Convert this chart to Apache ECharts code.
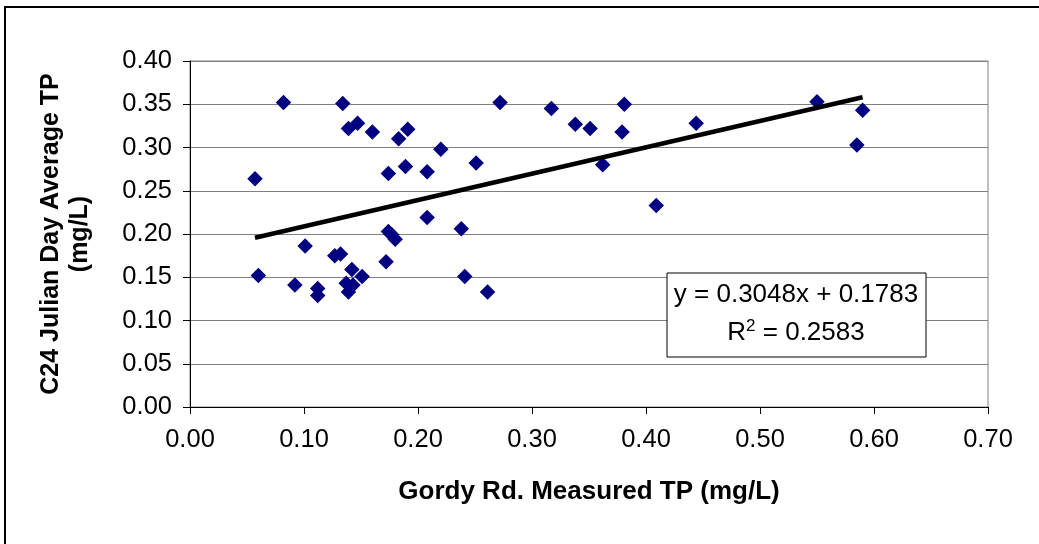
<!DOCTYPE html>
<html>
<head>
<meta charset="utf-8">
<script src="https://cdn.jsdelivr.net/npm/echarts@6/dist/echarts.min.js"></script>
<style>
html,body{margin:0;padding:0;background:#fff;}
#chart{width:1039px;height:544px;}
</style>
</head>
<body>
<div id="chart"></div>
<script>
// Gordy Rd. measured TP (mg/L)
const xValues = [0.057,0.060,0.082,0.092,0.101,0.112,0.112,0.127,0.132,0.134,
  0.137,0.143,0.139,0.142,0.151,0.139,0.147,0.160,0.172,0.174,
  0.174,0.177,0.180,0.183,0.189,0.191,0.208,0.208,0.220,0.238,
  0.241,0.251,0.261,0.272,0.317,0.338,0.351,0.362,0.379,0.381,
  0.409,0.444,0.550,0.585,0.590];
// C24 Julian day average TP (mg/L)
const yValues = [0.264,0.152,0.352,0.141,0.186,0.137,0.129,0.175,0.177,0.351,
  0.143,0.141,0.133,0.159,0.151,0.322,0.328,0.318,0.168,0.270,
  0.203,0.199,0.194,0.310,0.278,0.321,0.272,0.219,0.298,0.206,
  0.151,0.282,0.133,0.352,0.345,0.327,0.322,0.280,0.318,0.350,
  0.233,0.328,0.353,0.303,0.343];
const xTicks = ['0.00','0.10','0.20','0.30','0.40','0.50','0.60','0.70'];
const yTicks = ['0.00','0.05','0.10','0.15','0.20','0.25','0.30','0.35','0.40'];
const trendSlope = 0.3048;
const trendIntercept = 0.1783;
const trendLabel1 = 'y = 0.3048x + 0.1783';
const trendLabel2 = 'R{sup|2} = 0.2583';

const points = xValues.map((x,i)=>[x,yValues[i]]);
const xMin = Math.min(...xValues), xMax = Math.max(...xValues);
const trend = [[xMin, trendSlope*xMin+trendIntercept],[xMax, trendSlope*xMax+trendIntercept]];

const font = '"Liberation Sans", Arial, sans-serif';
const chart = echarts.init(document.getElementById('chart'), null, {renderer:'canvas'});
chart.setOption({
  animation:false,
  backgroundColor:'#fff',
  grid:{left:190, top:61, width:798, height:346, show:true, borderColor:'#808080', borderWidth:1, backgroundColor:'#fff'},
  xAxis:{
    type:'value', min:0, max:0.7, interval:0.1,
    name:'Gordy Rd. Measured TP (mg/L)', nameLocation:'middle', nameGap:72,
    nameTextStyle:{fontFamily:font, fontSize:26, fontWeight:'bold', color:'#000'},
    axisLine:{show:true, onZero:false, lineStyle:{color:'#000', width:1}},
    axisTick:{show:true, length:7, lineStyle:{color:'#000'}},
    axisLabel:{fontFamily:font, fontSize:25.5, color:'#000', margin:20,
      formatter:(v)=>xTicks[Math.round(v*10)]},
    splitLine:{show:false}
  },
  yAxis:{
    type:'value', min:0, max:0.4, interval:0.05,
    name:'C24 Julian Day Average TP\n(mg/L)', nameLocation:'middle', nameGap:95, nameRotate:90,
    nameTextStyle:{fontFamily:font, fontSize:25, fontWeight:'bold', color:'#000', lineHeight:29, align:'center'},
    axisLine:{show:true, onZero:false, lineStyle:{color:'#000', width:1}},
    axisTick:{show:true, length:7, lineStyle:{color:'#000'}},
    axisLabel:{fontFamily:font, fontSize:25.5, color:'#000', margin:18,
      formatter:(v)=>yTicks[Math.round(v*20)]},
    splitLine:{show:true, lineStyle:{color:'#808080', width:1}}
  },
  series:[
    {type:'scatter', data:points, symbol:'diamond', symbolSize:15.5,
      itemStyle:{color:'#000080', opacity:1}, z:3},
    {type:'line', data:trend, symbol:'none', lineStyle:{color:'#000', width:4.5}, z:4}
  ],
  graphic:[
    {type:'rect', shape:{x:5, y:7, width:1100, height:600}, style:{fill:'none', stroke:'#000', lineWidth:2}, silent:true, z:100},
    {type:'rect', shape:{x:667, y:273, width:259, height:84}, style:{fill:'#fff', stroke:'#000', lineWidth:1}, z:100},
    {type:'text', x:796, y:295, style:{text:trendLabel1, font:'26px '+font, fill:'#000', textAlign:'center', textVerticalAlign:'middle'}, z:101},
    {type:'text', x:796, y:333, style:{text:trendLabel2, font:'26px '+font, fill:'#000', textAlign:'center', textVerticalAlign:'middle',
      rich:{sup:{fontSize:17, fontFamily:font, fill:'#000', padding:[0,0,13,0]}}}, z:101}
  ]
});
</script>
</body>
</html>
